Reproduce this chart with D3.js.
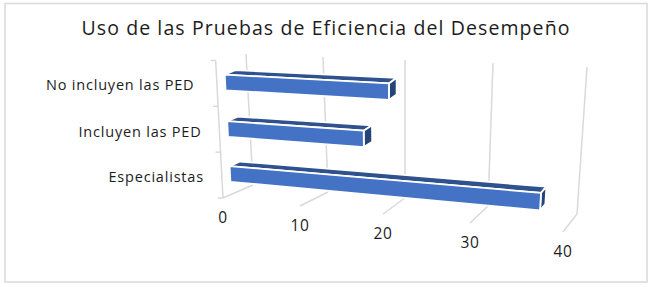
<!DOCTYPE html>
<html>
<head>
<meta charset="utf-8">
<script src="https://cdn.jsdelivr.net/npm/d3@7"></script>
<style>
body { margin: 0; background: #fff; }
text { font-family: "Open Sans", sans-serif; fill: #1c1c1c; white-space: pre; }
</style>
</head>
<body>
<svg></svg>
<script>
let width = 650, height = 287

let title = "Uso de las Pruebas de Eficiencia del Desempeño"
let categories = ["Especialistas", "Incluyen las PED", "No incluyen las PED "]
let values = [37, 17, 20]
let ticks = [0, 10, 20, 30, 40]

let svg = d3.select("svg").attr("width", width).attr("height", height).style("display", "block")

// the chart is a fake 3d box: floor front edge, floor back edge, top of the back wall
let frontX = d3.scaleLinear().domain(ticks).range([223, 300, 383, 470, 563])
let frontY = d3.scaleLinear().domain(ticks).range([198, 206, 214, 223, 232])
let backX = d3.scaleLinear().domain(ticks).range([253, 328, 405, 488, 577])
let backY = d3.scaleLinear().domain(ticks).range([185, 192, 198, 206, 214])
let topX = d3.scaleLinear().domain(ticks).range([246, 323, 405, 493, 587])
let topY = d3.scaleLinear().domain(ticks).range([54, 57, 60, 63, 67])

// v = value, t = depth (0 front, 1 back), h = height up the wall (0 to 1)
const project = (v, t, h) => {
    let x = frontX(v) + (backX(v) - frontX(v)) * t
    let y = frontY(v) + (backY(v) - frontY(v)) * t
    return [x + (topX(v) - backX(v)) * h, y + (topY(v) - backY(v)) * h]
}

let barCenter = d3.scaleOrdinal().domain(categories).range([0.157, 0.5, 0.855])
let barHalf = 0.06
let depthFront = 0.27, depthBack = 0.62

svg.append("rect")
    .attr("x", 5).attr("y", 3.5)
    .attr("width", 642).attr("height", 278.5)
    .attr("fill", "#fff").attr("stroke", "#d9d9d9").attr("stroke-width", 1.5)

svg.append("text")
    .attr("x", 326).attr("y", 35)
    .attr("text-anchor", "middle")
    .attr("font-size", 19.5)
    .attr("letter-spacing", 1.1)
    .text(title)

const drawLine = (a, b) => {
    svg.append("line")
        .attr("x1", a[0]).attr("y1", a[1])
        .attr("x2", b[0]).attr("y2", b[1])
        .attr("stroke", "#d9d9d9").attr("stroke-width", 1.5)
}

ticks.forEach(v => {
    drawLine(project(v, 0, 0), project(v, 1, 0))
    drawLine(project(v, 1, 0), project(v, 1, 1))
    svg.append("text")
        .attr("x", frontX(v)).attr("y", frontY(v) + 24.5)
        .attr("text-anchor", "middle")
        .attr("font-size", 15.5)
        .attr("letter-spacing", 0.6)
        .text(v)
})

// left axis, slightly taller than the wall because it is nearer
let wallScale = d3.scaleLinear().domain([0, 3]).range([0, 1.05])
drawLine(project(0, 0, wallScale(0)), project(0, 0, wallScale(3)))
d3.range(0, 4).forEach(i => {
    let p = project(0, 0, wallScale(i))
    drawLine(p, [p[0] - 5, p[1]])
})

const face = (points, fill) => {
    svg.append("polygon")
        .attr("points", points.map(p => p.join(",")).join(" "))
        .attr("fill", fill)
        .attr("stroke", "#fff").attr("stroke-width", 1.8)
        .attr("stroke-linejoin", "round")
}

// back to front so the nearer bars sit on top
categories.slice().reverse().forEach(cat => {
    let v = values[categories.indexOf(cat)]
    let lo = barCenter(cat) - barHalf, hi = barCenter(cat) + barHalf
    face([project(0, depthFront, hi), project(v, depthFront, hi), project(v, depthBack, hi), project(0, depthBack, hi)], "#2f528f")
    face([project(v, depthFront, hi), project(v, depthBack, hi), project(v, depthBack, lo), project(v, depthFront, lo)], "#264478")
    face([project(0, depthFront, hi), project(v, depthFront, hi), project(v, depthFront, lo), project(0, depthFront, lo)], "#4472c4")

    let mid = project(0, 0.3, barCenter(cat))
    svg.append("text")
        .attr("x", mid[0] - 27).attr("y", mid[1] + 8)
        .attr("text-anchor", "end")
        .attr("font-size", 14.5)
        .attr("letter-spacing", 0.8)
        .text(cat)
})
</script>
</body>
</html>
